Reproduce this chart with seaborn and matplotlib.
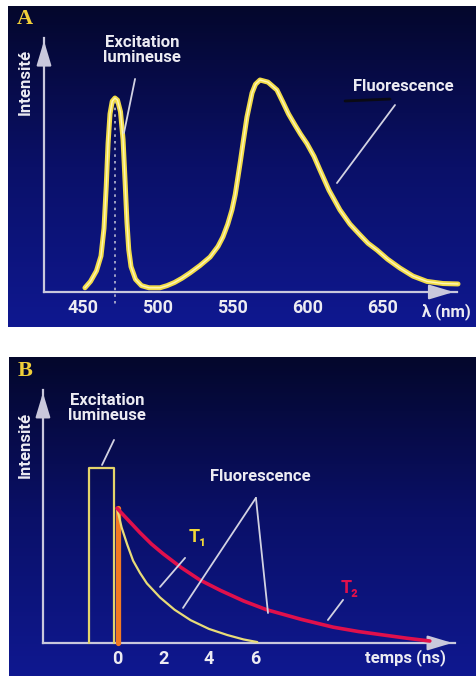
import numpy as np
import matplotlib
matplotlib.use("Agg")
import matplotlib.pyplot as plt
from matplotlib.colors import LinearSegmentedColormap
import seaborn as sns

# ---- Panel A : spectre d'excitation + fluorescence
wavelength = [451.3, 455.0, 459.0, 462.0, 464.0, 465.5, 466.7, 468.0, 469.5, 471.3,
              473.0, 475.0, 476.7, 478.0, 479.3, 480.5, 482.0, 485.0, 489.0, 494.0,
              501.3, 506.0, 511.0, 516.0, 521.3, 528.0, 534.7, 540.0, 543.3, 546.5,
              549.3, 551.5, 553.3, 555.0, 556.7, 559.3, 562.7, 565.0, 568.0, 573.3,
              579.3, 583.3, 587.0, 591.3, 595.0, 599.3, 604.0, 608.0, 614.0, 621.3,
              628.0, 634.7, 640.0, 646.0, 653.0, 661.3, 670.0, 679.3, 690.0, 700.0]
intensity_a = [0.02, 0.05, 0.1, 0.17, 0.3, 0.5, 0.7, 0.84, 0.9, 0.915,
               0.905, 0.85, 0.72, 0.53, 0.33, 0.2, 0.12, 0.06, 0.03, 0.02,
               0.02, 0.03, 0.045, 0.065, 0.09, 0.125, 0.165, 0.215, 0.26, 0.32,
               0.387, 0.46, 0.542, 0.62, 0.703, 0.825, 0.939, 0.98, 1.0, 0.99,
               0.953, 0.895, 0.84, 0.788, 0.745, 0.70, 0.64, 0.575, 0.48, 0.387,
               0.32, 0.269, 0.23, 0.198, 0.155, 0.113, 0.075, 0.05, 0.04, 0.038]
excitation_peak = 471.3
ticks_a = [450, 500, 550, 600, 650]

# ---- Panel B : déclins de fluorescence (ns)
time_1 = [0, 0.2, 0.45, 0.7, 1.0, 1.3, 1.87, 2.5, 3.2, 4.0, 4.8, 5.5, 6.1]
decay_1 = [0.77, 0.66, 0.56, 0.47, 0.40, 0.34, 0.26, 0.19, 0.13, 0.08, 0.045, 0.02, 0.005]
time_2 = [0, 0.5, 1.0, 1.5, 2.0, 2.8, 3.6, 4.5, 5.5, 6.5, 8.0, 9.4, 10.5, 11.6, 12.6, 13.6]
decay_2 = [0.77, 0.70, 0.63, 0.565, 0.51, 0.43, 0.36, 0.30, 0.24, 0.19, 0.135,
           0.09, 0.065, 0.045, 0.027, 0.011]
pulse_start, pulse_end, pulse_height = -1.2, -0.13, 1.0
ticks_b = [0, 2, 4, 6]

sns.set_theme(style="white")
FONT = ["Roboto", "DejaVu Sans"]
TXT = "#ecebf2"
AXC = "#c9c8dc"
YEL = "#f2dc48"
bg = LinearSegmentedColormap.from_list("bg", ["#04072c", "#0a1068", "#0f1890"])

fig = plt.figure(figsize=(4.76, 6.76), dpi=100, facecolor="white")
axA = fig.add_axes([8 / 476, 1 - 327 / 676, 468 / 476, 321 / 676])
axB = fig.add_axes([9 / 476, 0, 467 / 476, 319 / 676])


def setup(ax, xlim, ylim, x0, xend, ytop, ticks):
    ax.set_xlim(*xlim)
    ax.set_ylim(*ylim)
    grad = np.linspace(0, 1, 256).reshape(-1, 1)
    ax.imshow(grad, extent=[*xlim, *ylim], aspect="auto", cmap=bg, zorder=0,
              origin="upper")
    ax.grid(False)
    for s in ["top", "right"]:
        ax.spines[s].set_visible(False)
    ax.spines["bottom"].set_position(("data", 0))
    ax.spines["left"].set_position(("data", x0))
    ax.spines["bottom"].set_bounds(x0, xend)
    ax.spines["left"].set_bounds(0, ytop)
    for s in ["bottom", "left"]:
        ax.spines[s].set_color(AXC)
        ax.spines[s].set_linewidth(1.6)
        ax.spines[s].set_zorder(2)
    ax.set_yticks([])
    ax.set_xticks(ticks)
    ax.set_xticklabels([str(t) for t in ticks], family=FONT, weight="bold",
                       fontsize=13, color=TXT)
    ax.tick_params(axis="x", direction="in", length=3, color=AXC, pad=5)
    head = dict(arrowstyle="-|>,head_length=1.0,head_width=0.3", color=AXC,
                lw=1.6, mutation_scale=15)
    dx = (xlim[1] - xlim[0]) * 0.05
    dy = (ylim[1] - ylim[0]) * 0.07
    ax.annotate("", xy=(xend, 0), xytext=(xend - dx, 0), arrowprops=head)
    ax.annotate("", xy=(x0, ytop), xytext=(x0, ytop - dy), arrowprops=head)


def label(ax, x, y, s, **kw):
    kw.setdefault("color", TXT)
    kw.setdefault("fontsize", 12)
    ax.text(x, y, s, family=FONT, weight="bold", ha="center", va="center",
            linespacing=0.95, **kw)


def pointer(ax, p0, p1, color="#d2d2e2"):
    ax.plot([p0[0], p1[0]], [p0[1], p1[1]], color=color, lw=1.3, zorder=4)


# ---------------- Panel A
setup(axA, (400, 712), (-0.165, 1.349), 424, 699, 1.198, ticks_a)
axA.plot([excitation_peak, excitation_peak], [0.9, -0.06], color="#b8b8d0",
         lw=1.2, ls=(0, (1.5, 2.5)), zorder=2)
sns.lineplot(x=wavelength, y=intensity_a, ax=axA, color=YEL, lw=3.6, sort=False,
             estimator=None, zorder=3, solid_joinstyle="round")
sns.lineplot(x=wavelength, y=intensity_a, ax=axA, color="#fff6b8", lw=1.0,
             sort=False, estimator=None, zorder=3, solid_joinstyle="round")
axA.set_xlabel("")
axA.set_ylabel("")
label(axA, 489.3, 1.142, "Excitation\nlumineuse")
pointer(axA, (484.7, 1.005), (477.3, 0.75))
label(axA, 663.3, 0.967, "Fluorescence")
axA.plot([624.7, 654.7], [0.901, 0.910], color="#0a0a14", lw=2, zorder=4)
pointer(axA, (658, 0.882), (619.3, 0.514))
label(axA, 411.3, 0.99, "Intensité", rotation=90, fontsize=12)
label(axA, 692, -0.094, "λ (nm)")
axA.text(411.3, 1.288, "A", family=["Liberation Serif", "DejaVu Serif"],
         weight="bold", fontsize=16, color="#f0cf3a", ha="center", va="center")

# ---------------- Panel B
setup(axB, (-4.696, 15.609), (-0.189, 1.634), -3.22, 14.7, 1.446, ticks_b)
sns.lineplot(x=[pulse_start, pulse_start, pulse_end, pulse_end],
             y=[0, pulse_height, pulse_height, 0], ax=axB, color="#e4d46a",
             lw=1.6, sort=False, estimator=None, zorder=3)
axB.plot([0.05, 0.05], [0, decay_2[0]], color="#f27a22", lw=3.8, zorder=3)
sns.lineplot(x=time_1, y=decay_1, ax=axB, color="#e8dc78", lw=1.6,
             estimator=None, zorder=3, solid_joinstyle="round")
sns.lineplot(x=time_2, y=decay_2, ax=axB, color="#e0104c", lw=2.6,
             estimator=None, zorder=3, solid_joinstyle="round")
axB.set_xlabel("")
axB.set_ylabel("")
label(axB, -0.435, 1.343, "Excitation\nlumineuse")
pointer(axB, (-0.13, 1.16), (-0.652, 1.017))
label(axB, 6.217, 0.949, "Fluorescence")
pointer(axB, (6.04, 0.829), (2.87, 0.2))
pointer(axB, (6.04, 0.829), (6.565, 0.171))
label(axB, 3.52, 0.606, "T₁", color="#f2d838", fontsize=13)
pointer(axB, (2.96, 0.486), (1.87, 0.32))
label(axB, 10.13, 0.314, "T₂", color="#e0104c", fontsize=13)
pointer(axB, (9.83, 0.246), (9.17, 0.131))
label(axB, 12.52, -0.086, "temps (ns)")
label(axB, -4.0, 1.131, "Intensité", rotation=90, fontsize=12)
axB.text(-4.0, 1.554, "B", family=["Liberation Serif", "DejaVu Serif"],
         weight="bold", fontsize=16, color="#f0cf3a", ha="center", va="center")

fig.savefig("out.png", dpi=100, facecolor="white")
